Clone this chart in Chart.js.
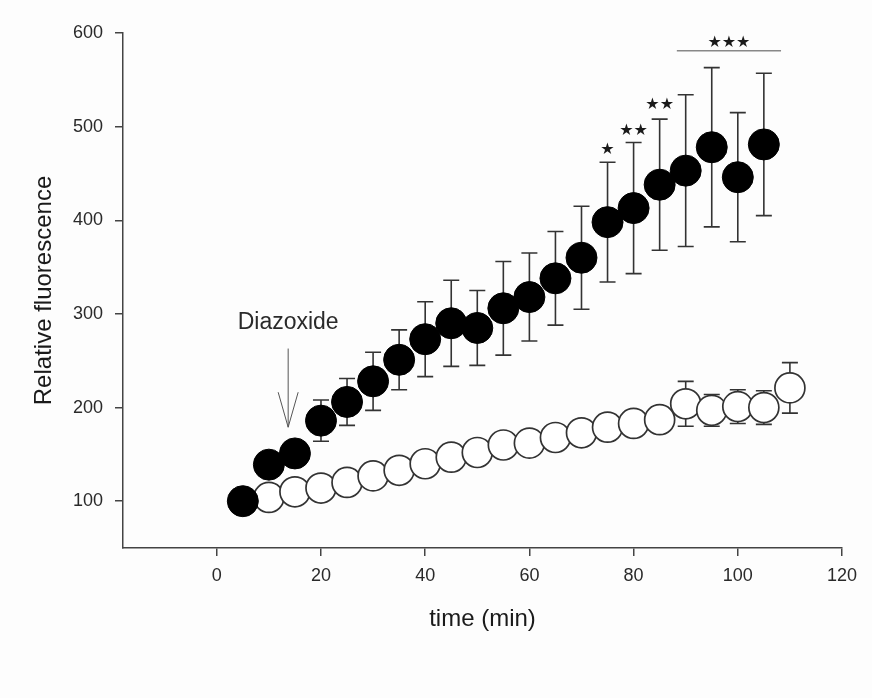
<!DOCTYPE html>
<html>
<head>
<meta charset="utf-8">
<script src="https://cdn.jsdelivr.net/npm/chart.js@4.4.1/dist/chart.umd.min.js"></script>
<style>
  html, body { margin: 0; padding: 0; background: #fdfdfd; }
  #wrap { width: 872px; height: 698px; }
</style>
</head>
<body>
<div id="wrap"><canvas id="myChart"></canvas></div>
<script>
// time points (min)
var timeDiaz = [5, 10, 15, 20, 25, 30, 35, 40, 45, 50, 55, 60, 65, 70, 75, 80, 85, 90, 95, 100, 105];
var diazMean = [100, 139, 151, 186, 206, 228, 251, 273, 290, 285, 306, 318, 338, 360, 398, 413, 438, 453, 478, 446, 481];
var diazErr  = [8, 10, 10, 22, 25, 31, 32, 40, 46, 40, 50, 47, 50, 55, 64, 70, 70, 81, 85, 69, 76];

var timeCtrl = [10, 15, 20, 25, 30, 35, 40, 45, 50, 55, 60, 65, 70, 75, 80, 85, 90, 95, 100, 105, 110];
var ctrlMean = [104, 110, 114, 120, 127, 133, 140, 147, 152, 160, 162, 168, 173, 179, 183, 187, 204, 197, 201, 200, 221];
var ctrlErr  = [4, 4, 4, 4, 4, 4, 4, 4, 4, 4, 4, 4, 4, 4, 4, 4, 24, 17, 18, 18, 27];

var xTicks = [0, 20, 40, 60, 80, 100, 120];
var yTicks = [100, 200, 300, 400, 500, 600];

// significance marks
var starText = ['★', '★★', '★★', '★★★'];
var starX    = [75, 80, 85, 98.3];
var starY    = [475, 496, 523, 590];
var sigLineX = [88.3, 108.3];
var sigLineY = 581;

// Diazoxide arrow
var arrowX = 13.7;
var arrowFromTo = [263, 179];
var arrowLabel = 'Diazoxide';
var arrowLabelY = 291;

var FONT = '"Liberation Sans", Arial, sans-serif';

function toPoints(xs, ys) {
  return xs.map(function(x, i) { return { x: x, y: ys[i] }; });
}

// error bars, drawn under the circles
var errorBars = {
  id: 'errorBars',
  beforeDatasetsDraw: function(chart) {
    var ctx = chart.ctx;
    var xs = chart.scales.x, ys = chart.scales.y;
    var sets = [[timeDiaz, diazMean, diazErr], [timeCtrl, ctrlMean, ctrlErr]];
    ctx.save();
    ctx.strokeStyle = '#333';
    ctx.lineWidth = 1.6;
    sets.forEach(function(s) {
      for (var i = 0; i < s[0].length; i++) {
        var px = xs.getPixelForValue(s[0][i]);
        var top = ys.getPixelForValue(s[1][i] + s[2][i]);
        var bot = ys.getPixelForValue(s[1][i] - s[2][i]);
        ctx.beginPath();
        ctx.moveTo(px, top); ctx.lineTo(px, bot);
        ctx.moveTo(px - 8, top); ctx.lineTo(px + 8, top);
        ctx.moveTo(px - 8, bot); ctx.lineTo(px + 8, bot);
        ctx.stroke();
      }
    });
    ctx.restore();
  }
};

// stars, line and the arrow
var marks = {
  id: 'marks',
  afterDraw: function(chart) {
    var ctx = chart.ctx;
    var xs = chart.scales.x, ys = chart.scales.y;
    ctx.save();
    ctx.fillStyle = '#1a1a1a';
    ctx.font = '16px "DejaVu Sans", sans-serif';
    ctx.textAlign = 'center';
    ctx.textBaseline = 'middle';
    for (var i = 0; i < starText.length; i++) {
      ctx.fillText(starText[i], xs.getPixelForValue(starX[i]), ys.getPixelForValue(starY[i]));
    }
    ctx.strokeStyle = '#888';
    ctx.lineWidth = 1.5;
    ctx.beginPath();
    ctx.moveTo(xs.getPixelForValue(sigLineX[0]), ys.getPixelForValue(sigLineY));
    ctx.lineTo(xs.getPixelForValue(sigLineX[1]), ys.getPixelForValue(sigLineY));
    ctx.stroke();

    var ax = xs.getPixelForValue(arrowX);
    var a0 = ys.getPixelForValue(arrowFromTo[0]);
    var a1 = ys.getPixelForValue(arrowFromTo[1]);
    ctx.strokeStyle = '#555';
    ctx.lineWidth = 1;
    ctx.beginPath();
    ctx.moveTo(ax, a0); ctx.lineTo(ax, a1);
    ctx.moveTo(ax - 10, a1 - 35); ctx.lineTo(ax, a1); ctx.lineTo(ax + 10, a1 - 35);
    ctx.stroke();

    ctx.fillStyle = '#2a2a2a';
    ctx.font = '23px ' + FONT;
    ctx.fillText(arrowLabel, ax, ys.getPixelForValue(arrowLabelY));
    ctx.restore();
  }
};

var ctx = document.getElementById('myChart');
new Chart(ctx, {
  type: 'scatter',
  data: {
    datasets: [{
      label: 'Diazoxide',
      data: toPoints(timeDiaz, diazMean),
      pointRadius: 15.5,
      pointHoverRadius: 15.5,
      backgroundColor: '#000',
      borderColor: '#000',
      borderWidth: 1
    }, {
      label: 'Control',
      data: toPoints(timeCtrl, ctrlMean),
      pointRadius: 15,
      pointHoverRadius: 15,
      backgroundColor: '#fff',
      borderColor: '#333',
      borderWidth: 1.7
    }]
  },
  options: {
    responsive: true,
    maintainAspectRatio: false,
    animation: false,
    layout: { padding: { left: 0, top: 33, right: 30, bottom: 0 } },
    plugins: {
      legend: { display: false },
      tooltip: { enabled: false }
    },
    scales: {
      x: {
        type: 'linear',
        min: -18,
        max: 120,
        afterBuildTicks: function(s) { s.ticks = xTicks.map(function(v) { return { value: v }; }); },
        afterFit: function(s) { s.height = 150; },
        grid: { display: true, drawOnChartArea: false, drawTicks: true, tickLength: 8, color: '#444', lineWidth: 1.5 },
        border: { display: true, color: '#444', width: 1.5 },
        ticks: { color: '#2a2a2a', padding: 9, font: { family: FONT, size: 18 } },
        title: {
          display: true, text: 'time (min)', color: '#1a1a1a',
          font: { family: FONT, size: 24, lineHeight: 1.2 },
          padding: { top: 0, bottom: 64 }
        }
      },
      y: {
        type: 'linear',
        min: 50,
        max: 600,
        afterBuildTicks: function(s) { s.ticks = yTicks.map(function(v) { return { value: v }; }); },
        afterFit: function(s) { s.width = 123; },
        grid: { display: true, drawOnChartArea: false, drawTicks: true, tickLength: 8, color: '#444', lineWidth: 1.5 },
        border: { display: true, color: '#444', width: 1.5 },
        ticks: { color: '#2a2a2a', padding: 12, font: { family: FONT, size: 18 } },
        title: {
          display: true, text: 'Relative fluorescence', color: '#1a1a1a',
          font: { family: FONT, size: 24, lineHeight: 1.2 },
          padding: { top: 30, bottom: 0 }
        }
      }
    }
  },
  plugins: [errorBars, marks]
});
</script>
</body>
</html>
